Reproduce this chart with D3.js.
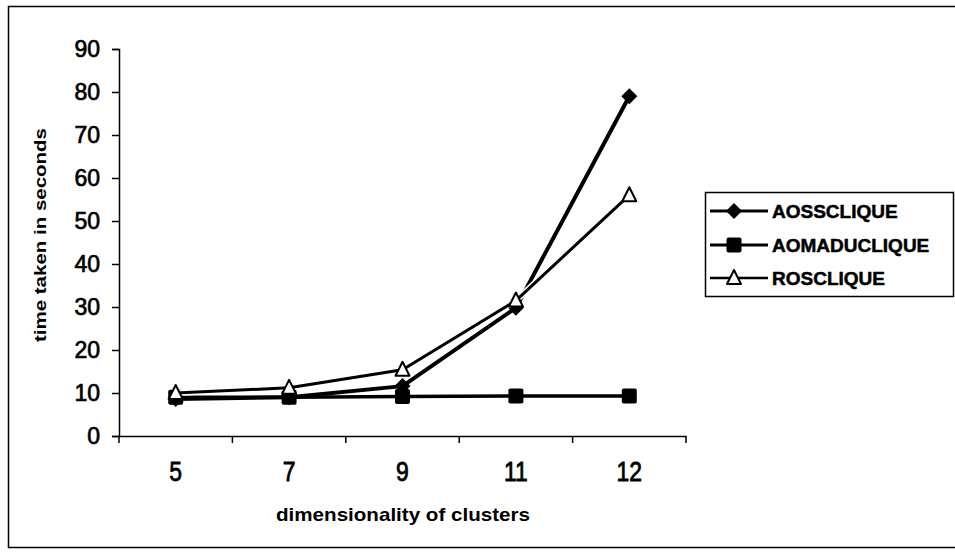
<!DOCTYPE html>
<html>
<head>
<meta charset="utf-8">
<script src="https://cdn.jsdelivr.net/npm/d3@7"></script>
<style>
  body { margin: 0; background: #fff; }
  svg { display: block; }
</style>
</head>
<body>
<script>
const categories = ['5', '7', '9', '11', '12'];
const aossclique = [8.6, 9, 11.6, 29.8, 79];
const aomaduclique = [9, 9, 9.2, 9.3, 9.3];
const rosclique = [10, 11.2, 15.4, 31.5, 56];
const yTicks = [0, 10, 20, 30, 40, 50, 60, 70, 80, 90];

const series = [
  { name: 'AOSSCLIQUE', values: aossclique, marker: 'diamond', width: 4 },
  { name: 'AOMADUCLIQUE', values: aomaduclique, marker: 'square', width: 3.5 },
  { name: 'ROSCLIQUE', values: rosclique, marker: 'triangle', width: 3 }
];

const width = 955;
const height = 554;
const margin = { top: 49, right: 269, bottom: 118, left: 119 };
const font = '"Liberation Sans", Arial, sans-serif';

const svg = d3.select('body')
  .append('svg')
  .attr('width', width)
  .attr('height', height)
  .style('background', '#ffffff');

// outer frame (right side falls off the picture)
svg.append('rect')
  .attr('x', 8.5)
  .attr('y', 6.5)
  .attr('width', 960)
  .attr('height', 541)
  .attr('fill', 'none')
  .attr('stroke', '#000')
  .attr('stroke-width', 1.5);

const x = d3.scaleBand()
  .domain(categories)
  .range([margin.left, width - margin.right])
  .padding(0);

const y = d3.scaleLinear()
  .domain([0, 90])
  .range([height - margin.bottom, margin.top]);

const cx = d => x(d) + x.bandwidth() / 2;

// y axis
const yAxis = svg.append('g')
  .attr('transform', `translate(${margin.left},0)`)
  .call(d3.axisLeft(y).tickValues(yTicks).tickSize(7).tickPadding(12));
yAxis.select('.domain').attr('stroke-width', 1.5);
yAxis.selectAll('.tick line').attr('stroke-width', 1.5);
yAxis.selectAll('text')
  .attr('font-family', font)
  .attr('font-size', 23)
  .attr('fill', '#000')
  .attr('stroke', '#000')
  .attr('stroke-width', 0.7);

// x axis: labels at centres, ticks at band edges
const xAxis = svg.append('g')
  .attr('transform', `translate(0,${y(0)})`)
  .call(d3.axisBottom(x).tickSize(0).tickPadding(25));
xAxis.select('.domain').attr('stroke-width', 1.5);
xAxis.selectAll('text')
  .attr('font-family', font)
  .attr('font-size', 28)
  .attr('fill', '#000')
  .attr('stroke', '#000')
  .attr('stroke-width', 0.8)
  .attr('transform', 'scale(0.82,1)');

xAxis.selectAll('line.edge')
  .data(categories.map(d => x(d)).concat([x.range()[1]]))
  .enter()
  .append('line')
  .attr('class', 'edge')
  .attr('x1', d => d)
  .attr('x2', d => d)
  .attr('y1', 0)
  .attr('y2', 7)
  .attr('stroke', '#000')
  .attr('stroke-width', 1.5);

// axis titles
svg.append('text')
  .attr('x', 403)
  .attr('y', 521)
  .attr('text-anchor', 'middle')
  .attr('font-family', font)
  .attr('font-weight', 700)
  .attr('font-size', 19)
  .attr('textLength', 254)
  .attr('lengthAdjust', 'spacingAndGlyphs')
  .text('dimensionality of clusters');

svg.append('text')
  .attr('transform', 'rotate(-90)')
  .attr('x', -235)
  .attr('y', 46)
  .attr('text-anchor', 'middle')
  .attr('font-family', font)
  .attr('font-weight', 700)
  .attr('font-size', 17)
  .attr('textLength', 214)
  .attr('lengthAdjust', 'spacingAndGlyphs')
  .text('time taken in seconds');

function drawMarker(g, type, px, py) {
  if (type === 'diamond') {
    const s = 8;
    g.append('path')
      .attr('d', `M${px},${py - s}L${px + s},${py}L${px},${py + s}L${px - s},${py}Z`)
      .attr('fill', '#000');
  } else if (type === 'square') {
    const s = 7.5;
    g.append('rect')
      .attr('x', px - s)
      .attr('y', py - s)
      .attr('width', s * 2)
      .attr('height', s * 2)
      .attr('rx', 2)
      .attr('fill', '#000');
  } else {
    const s = 7;
    g.append('path')
      .attr('d', `M${px},${py - s - 1}L${px + s},${py + s - 1}L${px - s},${py + s - 1}Z`)
      .attr('fill', '#fff')
      .attr('stroke', '#000')
      .attr('stroke-width', 2)
      .attr('stroke-linejoin', 'round');
  }
}

const line = d3.line()
  .x((d, i) => cx(categories[i]))
  .y(d => y(d));

series.forEach(s => {
  const g = svg.append('g');
  if (s.marker === 'triangle') {
    g.append('path')
      .attr('d', line(s.values))
      .attr('fill', 'none')
      .attr('stroke', '#fff')
      .attr('stroke-width', s.width + 3);
  }
  g.append('path')
    .attr('d', line(s.values))
    .attr('fill', 'none')
    .attr('stroke', '#000')
    .attr('stroke-width', s.width)
    .attr('stroke-linejoin', 'round');
  s.values.forEach((v, i) => drawMarker(g, s.marker, cx(categories[i]), y(v)));
});

// legend
const legend = svg.append('g');
legend.append('rect')
  .attr('x', 705.5)
  .attr('y', 192.5)
  .attr('width', 248)
  .attr('height', 104)
  .attr('fill', '#fff')
  .attr('stroke', '#000')
  .attr('stroke-width', 1.5);

const legendRows = [211, 245, 278];
series.forEach((s, i) => {
  const ly = legendRows[i];
  legend.append('line')
    .attr('x1', 710)
    .attr('x2', 768)
    .attr('y1', ly)
    .attr('y2', ly)
    .attr('stroke', '#000')
    .attr('stroke-width', s.marker === 'triangle' ? 2.5 : 3);
  drawMarker(legend, s.marker, 734, ly);
  legend.append('text')
    .attr('x', 772)
    .attr('y', ly)
    .attr('dy', '0.36em')
    .attr('font-family', font)
    .attr('font-weight', 700)
    .attr('font-size', 19)
    .attr('stroke', '#000')
    .attr('stroke-width', 0.5)
    .text(s.name);
});
</script>
</body>
</html>
